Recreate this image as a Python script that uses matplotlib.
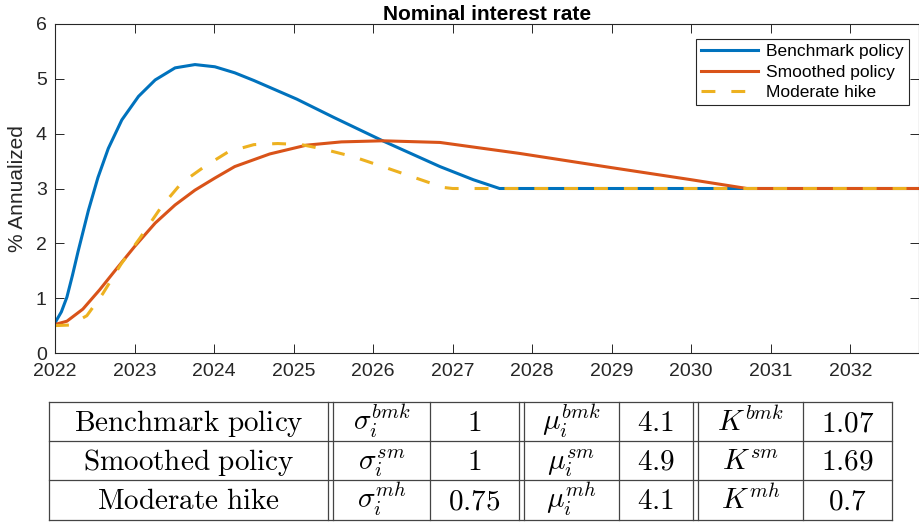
import numpy as np
import matplotlib
matplotlib.use("Agg")
import matplotlib.pyplot as plt

plt.rcParams['font.family'] = ['Liberation Sans', 'DejaVu Sans']
plt.rcParams['mathtext.fontset'] = 'cm'
plt.rcParams['lines.scale_dashes'] = False

# --- curves (year, % annualized) ---
bmk_x = [2022.0, 2022.08, 2022.15, 2022.22, 2022.29, 2022.42, 2022.54, 2022.67, 2022.84,
         2023.05, 2023.26, 2023.51, 2023.76, 2024.01, 2024.26, 2024.5, 2025.04, 2025.5,
         2026.12, 2026.84, 2027.26, 2027.59, 2032.87]
bmk_y = [0.55, 0.75, 1.02, 1.42, 1.85, 2.60, 3.20, 3.73, 4.25,
         4.68, 4.98, 5.20, 5.26, 5.22, 5.11, 4.97, 4.63, 4.30,
         3.87, 3.40, 3.16, 3.0, 3.0]

sm_x = [2022.0, 2022.15, 2022.35, 2022.56, 2022.77, 2023.0, 2023.26, 2023.51, 2023.76,
        2024.01, 2024.26, 2024.7, 2025.16, 2025.6, 2026.12, 2026.84, 2027.84,
        2029.0, 2030.0, 2030.7, 2032.87]
sm_y = [0.52, 0.58, 0.80, 1.15, 1.53, 1.94, 2.37, 2.70, 2.97,
        3.19, 3.40, 3.63, 3.79, 3.85, 3.87, 3.84, 3.64,
        3.38, 3.16, 3.0, 3.0]

mh_x = [2022.0, 2022.19, 2022.4, 2022.6, 2022.83, 2023.07, 2023.34, 2023.59, 2023.88,
        2024.18, 2024.5, 2024.8, 2025.1, 2025.37, 2025.75, 2026.12,
        2026.5, 2026.88, 2027.0, 2032.87]
mh_y = [0.50, 0.51, 0.68, 1.08, 1.62, 2.10, 2.67, 3.10, 3.40,
        3.67, 3.80, 3.82, 3.80, 3.72, 3.58, 3.40,
        3.21, 3.02, 3.0, 3.0]

years = list(range(2022, 2033))
yticks = [0, 1, 2, 3, 4, 5, 6]

# --- parameter table ---
row_names = ["Benchmark policy", "Smoothed policy", "Moderate hike"]
row_tags = ["bmk", "sm", "mh"]
sigma_vals = ["1", "1", "0.75"]
mu_vals = ["4.1", "4.9", "4.1"]
k_vals = ["1.07", "1.69", "0.7"]

W, H = 920, 523
fig = plt.figure(figsize=(W / 100, H / 100), dpi=100)
ax = fig.add_axes([55 / W, (H - 353) / H, 864.5 / W, 329 / H])

ax.plot(bmk_x, bmk_y, color='#0072BD', lw=2.2, label='Benchmark policy')
ax.plot(sm_x, sm_y, color='#D95319', lw=2.2, label='Smoothed policy')
ax.plot(mh_x, mh_y, color='#EDB120', lw=2.2, dashes=(10, 11.5), label='Moderate hike')

ax.set_xlim(2022, 2032.87)
ax.set_ylim(0, 6)
ax.set_xticks(years)
ax.set_yticks(yticks)
ax.tick_params(direction='in', length=6.2, width=0.7, colors='#262626',
               labelsize=14, top=True, right=True)
ax.tick_params(axis='x', pad=7)
ax.tick_params(axis='y', pad=6)
for s in ax.spines.values():
    s.set_color('#262626')
    s.set_linewidth(0.8)
ax.set_title('Nominal interest rate', fontsize=15, fontweight='bold', pad=3)
ax.set_ylabel('% Annualized', fontsize=15, color='#262626', labelpad=6)

leg = ax.legend(loc='upper right', bbox_to_anchor=((909 - 55) / 864.5, (353 - 39) / 329),
                borderaxespad=0, fontsize=12.5, fancybox=False, framealpha=1,
                edgecolor='#262626', handlelength=3.3, handletextpad=0.45,
                labelspacing=0.3, borderpad=0.3)
leg.get_frame().set_linewidth(0.8)

# table drawn in pixel coordinates
tab = fig.add_axes([0, 0, 1, 130 / H])
tab.set_xlim(0, W)
tab.set_ylim(H, H - 130)
tab.axis('off')
col_edges = [49, 328, 333, 430, 519, 524, 619, 693, 698, 803, 892]
row_edges = [402, 441, 480, 520]
lc = '#444444'
for yy in row_edges:
    tab.plot([col_edges[0], col_edges[-1]], [yy, yy], color=lc, lw=0.9)
for xx in col_edges:
    tab.plot([xx, xx], [row_edges[0], row_edges[-1]], color=lc, lw=0.9)

centers = [(49 + 328) / 2, (333 + 430) / 2, (430 + 519) / 2, (524 + 619) / 2,
           (619 + 693) / 2, (698 + 803) / 2, (803 + 892) / 2]
fs = 21
for r in range(3):
    base = row_edges[r] + 29
    tag = row_tags[r]
    cells = [r'$\mathrm{%s}$' % row_names[r].replace(' ', r'\ '),
             r'$\sigma_i^{%s}$' % tag,
             r'$%s$' % sigma_vals[r],
             r'$\mu_i^{%s}$' % tag,
             r'$%s$' % mu_vals[r],
             r'$K^{%s}$' % tag,
             r'$%s$' % k_vals[r]]
    for c, txt in enumerate(cells):
        tab.text(centers[c], base, txt, fontsize=fs, ha='center', va='baseline')

fig.savefig('out.png', dpi=100)
